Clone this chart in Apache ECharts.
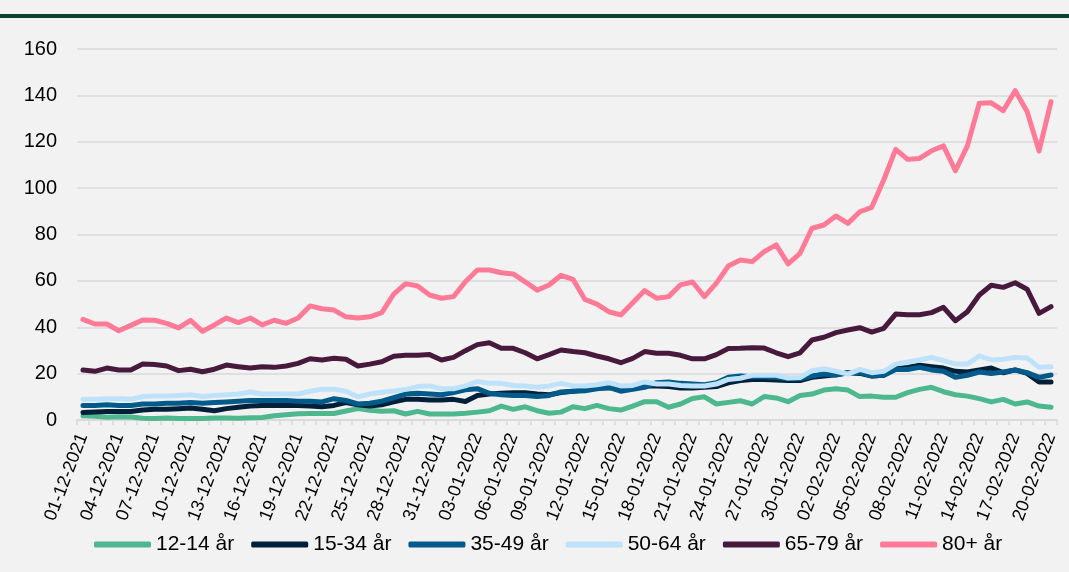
<!DOCTYPE html>
<html><head><meta charset="utf-8">
<script src="https://cdn.jsdelivr.net/npm/echarts@6/dist/echarts.min.js"></script>
<style>html,body{margin:0;padding:0;background:#F2F2F2;}#c{width:1069px;height:572px;}</style>
</head><body><div id="c"></div>
<script>
const categories = [
"01-12-2021","02-12-2021","03-12-2021","04-12-2021","05-12-2021","06-12-2021","07-12-2021","08-12-2021","09-12-2021","10-12-2021",
"11-12-2021","12-12-2021","13-12-2021","14-12-2021","15-12-2021","16-12-2021","17-12-2021","18-12-2021","19-12-2021","20-12-2021",
"21-12-2021","22-12-2021","23-12-2021","24-12-2021","25-12-2021","26-12-2021","27-12-2021","28-12-2021","29-12-2021","30-12-2021",
"31-12-2021","01-01-2022","02-01-2022","03-01-2022","04-01-2022","05-01-2022","06-01-2022","07-01-2022","08-01-2022","09-01-2022",
"10-01-2022","11-01-2022","12-01-2022","13-01-2022","14-01-2022","15-01-2022","16-01-2022","17-01-2022","18-01-2022","19-01-2022",
"20-01-2022","21-01-2022","22-01-2022","23-01-2022","24-01-2022","25-01-2022","26-01-2022","27-01-2022","28-01-2022","29-01-2022",
"30-01-2022","31-01-2022","01-02-2022","02-02-2022","03-02-2022","04-02-2022","05-02-2022","06-02-2022","07-02-2022","08-02-2022",
"09-02-2022","10-02-2022","11-02-2022","12-02-2022","13-02-2022","14-02-2022","15-02-2022","16-02-2022","17-02-2022","18-02-2022",
"19-02-2022","20-02-2022"];

const seriesNames = ["12-14 år","15-34 år","35-49 år","50-64 år","65-79 år","80+ år"];

const age12_14 = [1.8,1.6,1.2,1.4,1.3,0.8,0.6,0.9,0.6,0.7,0.6,0.9,0.9,0.8,1.0,1.1,1.8,2.3,2.7,2.8,2.8,2.8,3.9,4.9,4.2,3.8,4.0,2.6,3.7,2.6,2.6,2.6,2.9,3.4,4.0,6.0,4.6,5.7,4.0,2.9,3.4,5.7,4.9,6.3,4.9,4.3,6.0,7.9,7.9,5.5,6.9,9.3,10.0,6.9,7.6,8.3,6.9,10.1,9.5,7.9,10.6,11.2,12.9,13.5,12.9,10.1,10.3,9.8,9.8,11.8,13.2,14.1,12.2,10.9,10.3,9.2,7.8,8.9,6.9,7.8,6.0,5.5];
const age15_34 = [3.2,3.4,3.7,3.7,3.7,4.3,4.6,4.6,4.9,5.2,4.6,4.0,4.9,5.5,6.0,6.3,6.3,6.3,6.3,6.0,5.7,6.3,7.5,6.6,6.0,6.6,7.8,8.9,8.9,8.6,8.6,8.9,8.0,10.6,11.2,11.5,11.8,11.8,11.2,10.9,11.8,12.4,13.0,13.8,13.8,14.4,14.4,14.7,14.7,14.4,13.8,13.8,14.1,14.4,16.0,17.0,17.5,17.5,17.2,17.0,17.0,18.4,19.0,19.5,20.4,20.1,19.0,19.3,22.1,22.7,23.6,23.0,22.4,21.0,20.7,21.6,22.4,20.4,21.6,20.1,16.4,16.4];
const age35_49 = [6.3,6.3,6.6,6.3,6.3,6.9,6.9,7.2,7.2,7.5,7.2,7.5,7.8,8.1,8.4,8.4,8.4,8.4,8.1,8.1,7.8,9.2,8.4,6.9,7.2,8.1,9.6,11.2,11.5,11.2,10.9,11.8,13.0,13.5,11.5,10.9,10.6,10.6,10.1,10.6,12.1,12.4,12.6,13.5,14.1,12.4,13.2,14.1,16.1,16.4,15.8,15.5,15.2,16.1,18.4,19.0,18.7,18.7,18.4,17.8,17.8,19.0,19.8,19.4,20.4,20.4,19.0,19.3,21.8,21.8,22.7,21.6,21.0,18.4,19.3,20.7,20.1,20.7,21.6,20.4,18.4,19.4];
const age50_64 = [8.9,8.9,9.2,9.2,8.9,10.1,10.3,10.3,10.6,10.9,10.1,10.6,10.9,11.2,12.1,11.2,11.2,11.2,11.2,12.4,13.3,13.3,12.4,10.0,11.2,12.0,12.5,13.2,14.4,14.7,13.5,13.5,14.7,16.6,15.8,15.8,14.9,14.7,14.1,14.7,15.8,14.7,14.7,15.2,16.1,14.7,14.9,16.4,15.5,15.5,14.9,14.7,14.7,15.5,17.5,18.0,19.3,19.3,19.3,18.1,18.3,21.3,22.1,21.0,19.8,21.8,20.4,21.0,24.1,25.0,25.9,27.0,25.6,24.1,24.1,27.6,25.9,26.2,27.0,26.7,22.7,23.0];
const age65_79 = [21.6,21.0,22.4,21.6,21.6,24.1,23.9,23.3,21.3,21.9,20.8,21.9,23.7,23.0,22.4,23.0,22.7,23.3,24.4,26.4,25.9,26.6,26.2,23.3,24.1,25.1,27.5,27.9,27.9,28.2,25.9,27.0,29.9,32.5,33.3,30.9,30.9,29.0,26.4,28.2,30.2,29.5,29.0,27.6,26.4,24.7,26.6,29.5,28.8,28.8,27.9,26.4,26.4,28.2,30.8,30.9,31.2,31.0,29.0,27.3,29.0,34.5,35.7,37.7,38.8,39.8,37.9,39.5,45.7,45.4,45.4,46.3,48.6,42.8,46.7,53.9,58.1,57.2,59.2,56.4,46.0,48.9];
const age80plus = [43.4,41.4,41.4,38.5,40.8,43.1,43.0,41.7,39.7,43.0,38.2,41.0,44.0,42.0,44.0,41.0,43.0,41.7,44.0,49.2,48.0,47.4,44.5,44.0,44.5,46.3,54.3,58.8,57.8,53.9,52.5,53.2,59.6,64.7,64.7,63.5,63.0,59.6,56.0,58.2,62.4,60.7,52.0,50.0,46.7,45.3,50.6,55.8,52.5,53.2,58.3,59.5,53.2,59.0,66.4,69.0,68.3,72.6,75.5,67.3,71.9,82.7,84.1,88.0,84.8,89.8,91.7,103.5,116.7,112.4,112.8,116.1,118.2,107.5,118.2,136.6,136.8,133.4,142.0,133.0,116.0,137.3];

const yTicks = [0,20,40,60,80,100,120,140,160];

const colors = ["#4DB88D","#00203A","#005A8A","#BFE2FB","#471A3D","#FF7A96"];
const allData = [age12_14, age15_34, age35_49, age50_64, age65_79, age80plus];

const chart = echarts.init(document.getElementById('c'));
chart.setOption({
  backgroundColor: '#F2F2F2',
  animation: false,
  graphic: [{type:'rect', left:0, top:14, shape:{width:1069, height:4}, style:{fill:'#0A4035'}}],
  grid: {left:77, right:12, top:49, bottom:152, containLabel:false},
  legend: {
    left: 89, top: 529, itemWidth: 57, itemHeight: 6, itemGap: 17, icon: 'roundRect',
    textStyle: {fontFamily:'Liberation Sans, Arial', fontSize:21, color:'#000'},
    data: seriesNames
  },
  xAxis: {
    type: 'category', data: categories, boundaryGap: true,
    axisLine: {lineStyle:{color:'#D9D9D9', width:1.5}},
    axisTick: {show:true, interval:0, length:5, lineStyle:{color:'#D9D9D9', width:1.5}},
    axisLabel: {interval:2, rotate:69, fontFamily:'Liberation Sans, Arial', fontSize:18, color:'#000', margin:14}
  },
  yAxis: {
    type: 'value', min: yTicks[0], max: yTicks[yTicks.length-1], interval: 20,
    axisLine: {show:false}, axisTick: {show:false},
    splitLine: {lineStyle:{color:'#D9D9D9', width:1.5}},
    axisLabel: {fontFamily:'Liberation Sans, Arial', fontSize:20, color:'#000', margin:20}
  },
  series: seriesNames.map((n,i)=>({
    name:n, type:'line', data: allData[i], showSymbol:false, symbol:'none',
    lineStyle:{color:colors[i], width:5, join:'round', cap:'round'},
    itemStyle:{color:colors[i]}
  }))
});
</script></body></html>
